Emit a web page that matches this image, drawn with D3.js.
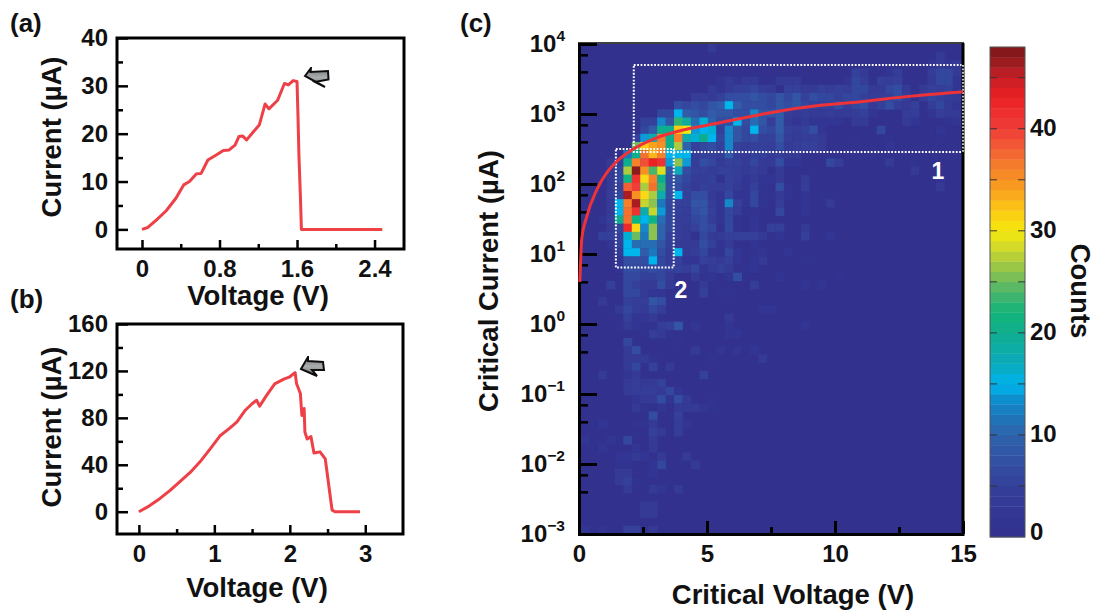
<!DOCTYPE html>
<html>
<head>
<meta charset="utf-8">
<script src="https://cdn.jsdelivr.net/npm/d3@7"></script>
<style>
  html, body { margin: 0; padding: 0; background: #fff; }
  svg { display: block; }
  text { font-family: "Liberation Sans", Arial, sans-serif; font-weight: bold; fill: #111; }
</style>
</head>
<body>
<svg width="1097" height="610"></svg>
<script>
// panel (a)
const aVoltage = [0,.06,.15,.25,.35,.43,.49,.56,.61,.68,.77,.84,.9,.96,1,1.04,1.08,1.15,1.21,1.27,1.31,1.4,1.47,1.51,1.56,1.6,1.61,1.62,1.635,1.645,2.48];
const aCurrent = [0,.4,2,3.9,6.5,9.3,10,11.6,11.7,14.5,15.6,16.5,16.6,17.6,19.4,19.5,18.7,20.4,21.8,26.2,25.2,27,30.5,30.2,31.1,30.9,23.6,15.2,6.8,0,0];
const aXTicks = [0,0.8,1.6,2.4], aXMinor = [0.4,1.2,2.0];
const aYTicks = [0,10,20,30,40], aYMinor = [5,15,25,35];

// panel (b)
const bVoltage = [0,.14,.28,.41,.54,.68,.81,.95,1.08,1.2,1.3,1.41,1.5,1.56,1.6,1.69,1.8,1.92,2,2.07,2.09,2.14,2.16,2.19,2.2,2.23,2.28,2.32,2.4,2.47,2.51,2.56,2.6,2.93];
const bCurrent = [0,5,11.3,18,25.5,33.5,42.5,54,65,71,76.6,86.5,92,95,90,99,109,113,115,118.6,109,100.7,82,88,68,62,64,50,51,45,25.5,1.4,0,0];
const bXTicks = [0,1,2,3], bXMinor = [0.5,1.5,2.5];
const bYTicks = [0,40,80,120,160], bYMinor = [20,60,100,140];

// panel (c) red curve
const fitVoltage = [.03,.04,.105,.3,.69,1.08,1.41,2.06,3.03,4.07,5,7,8.9,11,13,15];
const fitCurrent = [4,4.85,16,34,82,144,200,306,457,590,690,970,1260,1500,1800,2080];
const cXTicks = [0,5,10,15], cXMinor = [2.5,7.5,12.5];
const cExponents = [4,3,2,1,0,-1,-2,-3];
const colorbarTicks = [0,10,20,30,40], colorbarMinor = [5,15,25,35,45];

// 2D histogram: one list per current bin (top row = 10^4), one entry per voltage bin
const counts = [
  [0,0,0,0,0,0,0,0,0,0,0,0,0,0,0,3],
  [0,0,0,0,0,0,0,0,0,0,0,0,0,0,0,0,0,0,0,0,0,0,0,0,0,0,0,0,0,0,0,0,0,0,0,0,0,0,0,0,0,0,3],
  [0,0,0,0,0,0,0,0,0,0,0,0,0,0,0,0,0,0,0,0,0,0,0,0,0,0,0,0,0,0,0,0,0,0,0,0,0,0,0,0,0,2,3,2,3],
  [0,0,0,0,0,0,0,0,0,0,0,0,0,0,0,0,0,0,0,0,0,0,0,0,0,0,0,0,0,0,0,0,5,3,0,0,2,4,0,0,0,4,6,6,3,6],
  [0,0,0,0,0,0,0,0,0,0,0,0,0,0,0,0,2,3,2,3,3,0,0,3,3,3,0,0,0,0,0,2,6,4,0,5,4,5,0,0,0,3,6,6,2,5],
  [0,0,0,0,0,0,0,0,0,0,0,0,0,0,0,3,2,3,5,5,6,4,3,0,5,5,3,3,5,4,5,4,6,6,3,3,6,7,3,0,3,5,4,5,2,3],
  [0,0,0,0,0,0,0,0,0,0,0,0,0,4,4,3,5,7,7,7,8,7,6,8,6,8,5,7,6,6,5,6,6,5,4,4,5,7,4,0,4,6,5,4,3,3],
  [0,0,0,0,0,0,0,0,0,0,0,7,6,7,6,8,9,15,9,7,7,7,6,8,7,8,6,5,5,5,7,4,6,7,3,5,7,4,3,5,0,4,6,3,2],
  [0,0,0,0,0,0,0,0,0,6,6,15,9,8,7,9,8,8,7,7,13,8,8,9,4,3,4,3,3,4,3,3,4,5,2,0,0,0,4,4,0,2,4,3,3,3],
  [0,0,0,0,0,0,0,5,5,13,8,23,19,11,16,10,7,7,15,7,11,8,4,9,3,2,3,2,2,2,2,0,3,3,0,0,0,0,3,2,0,0,0,1,2],
  [0,0,0,0,0,0,0,6,9,20,20,32,30,14,15,16,5,13,8,6,15,7,6,9,5,4,5,7,2,0,0,0,0,0,0,6,0,0,0,0,0,0,2],
  [0,0,0,0,0,0,5,14,18,36,20,36,18,16,20,15,6,13,8,6,7,5,5,8,4,3,4,4,3,0,0,0,1,0,0,0,1,0,0,0,0,0,1],
  [0,0,0,0,0,0,25,32,34,35,20,27,10,5,6,7,5,13,5,4,5,5,4,7,3,4,5,5,3,0,0,0,0,0,0,0,2],
  [0,0,0,0,0,12,20,37,33,36,15,15,15,4,5,5,4,9,4,3,5,5,3,4,3,3],
  [0,0,0,3,5,20,36,39,43,41,14,26,14,4,7,6,3,5,5,3,6,3,3,7,2,2,0,0,0,6,4,0,0,0,0,0,3,0,0,1],
  [0,0,0,3,6,27,47,35,24,29,8,17,7,5,5,4,5,5,4,3,4,3,0,3,0,0,0,0,0,0,0,0,0,0,0,0,0,0,0,3],
  [0,0,0,3,6,21,41,31,36,20,7,8,6,4,4,5,1,5,4,2,3,2,2,3,0,0,3,0,0,0,0,0,0,0,0,0,0,0,0,0,0,0,2],
  [0,0,0,3,5,38,40,27,37,23,7,7,5,3,5,4,4,5,3,2,5,2,0,7,1,0,4,0,0,0,0,0,0,0,0,0,0,0,0,0,0,0,3],
  [0,0,0,4,6,46,35,31,27,18,7,15,5,7,7,3,2,6,2,2,6,1,1,3,2,0,2,0,1],
  [0,0,0,3,15,36,46,28,26,12,6,5,5,8,8,4,2,13,5,2,6,2,0,4,0,0,2,0,0,3],
  [0,0,0,3,15,37,41,18,28,14,6,5,4,7,8,5,2,6,4,1,1,0,0,6,0,0,2],
  [0,0,2,4,20,37,21,15,21,11,6,4,4,6,7,4,2,6,1,0,2],
  [0,0,0,3,6,42,31,13,26,10,6,4,3,5,7,6,1,6,1,0,2,0,5,5,0,0,3],
  [0,0,5,5,5,16,25,12,26,10,5,4,3,1,6,3,3,5,5,5,5,3,0,2,0,0,5,0,0,2],
  [0,0,0,2,5,15,11,11,11,8,5,3,3,3,7,5,2,3,0,0,2],
  [0,0,0,0,3,15,15,9,12,7,4,15,3,4,6,2,1,6,2,0,1,2,0,0,2],
  [0,0,0,0,2,7,7,7,15,6,4,5,2,2,5,4,3,5,2,0,2,3,0,0,0,0,1],
  [0,0,0,0,2,7,7,6,7,6,5,5,4,6,2,3,5,3,0,1,2],
  [0,0,0,0,0,6,6,5,5,6,3,0,0,3,1,2,0,2,7,0,0,0,0,2,0,0,0,0,0,0,1],
  [0,0,0,5,0,6,5,3,3,7,3,0,0,0,3,0,0,0,0,0,4,0,0,0,0,0,2,0,2],
  [0,0,0,0,0,6,6,3,2,2,0,0,0,0,5,0,1,1],
  [0,0,3,0,0,5,4,4,8,7],
  [0,0,0,0,3,6,4,3,6,4,0,0,0,0,0,0,0,0,0,0,0,2,2],
  [0,0,0,0,0,5,2,2,3,0,0,0,0,0,0,0,0,3],
  [0,0,0,0,1,3,2,1,1,4,5,8,0,2,0,0,0,2,0,0,0,0,0,0,0,0,2],
  [0,0,0,0,0,0,0,0,4,3,1,0,0,0,0,0,0,2,2],
  [0,0,0,0,0,6,0,0,0,0,0,1],
  [0,0,0,0,0,3,7,0,0,0,0,0,0,3,0,0,2,0,2,0,2],
  [0,0,0,0,0,3,3,3,1,0,0,0,0,0,0,1,0,0,0,0,0,3],
  [0,0,0,0,0,3,6,0,5,0,3],
  [0,0,3,0,0,2,3,0,0,0,0,0,0,0,5],
  [0,0,0,0,0,3,4,3,3,5],
  [0,0,0,0,0,3,4,4,4,3,6,2],
  [0,0,0,0,0,0,2,3,3,7,2,7,3,0,0,1],
  [0,0,0,0,0,0,3,1,0,2,0,3,3,3,2,1],
  [0,0,0,0,0,0,0,0,7,0,0,5],
  [0,0,2,0,0,0,1,1,3,0,0,4,2],
  [0,0,0,0,0,0,0,0,5,3,0,4],
  [2,0,0,2,0,6,0,0,3],
  [0,0,2,0,0,0,2,0,3],
  [0,0,0,0,2,2,3,2,0,3,0,0,3],
  [0,0,0,0,1,1,0,0,2,6,0,0,0,3],
  [0,0,0,0,3,3,0,0,2],
  [0,0,0,0,3,5,1],
  [0,0,0,0,0,3,0,0,3,2,0,3],
  [],
  [0,0,0,0,0,0,0,3,3],
  [0,0,0,0,0,0,0,3,3],
  [],
  [2,0,2,0,0,5,5,1,3]
];

const colorStops = [0,5,10,12,13.5,15,17,20,22,24,26,28,30,32,34,36,38,40,43,45,47,48];
const colorValues = ["#33308e","#34409a","#2f62ab","#1c78bc","#0d8fce","#00b4ec","#0aa9bb","#10ae8f","#12b57a","#4bb56c","#8cc24f","#c7d52f","#f5e80e","#fcc915","#f9a11f","#f58229","#f26033","#ee3d3a","#ec2024","#c71f25","#8c1a1c","#7c1518"];

const color = d3.scaleLinear().domain(colorStops).range(colorValues);
const svg = d3.select("svg");

const defs = svg.append("defs");
defs.append("filter").attr("id", "soft").attr("x", "-5%").attr("y", "-5%").attr("width", "110%").attr("height", "110%")
    .append("feGaussianBlur").attr("stdDeviation", 0.7);
defs.append("filter").attr("id", "softer").attr("x", "-5%").attr("y", "-5%").attr("width", "110%").attr("height", "110%")
    .append("feGaussianBlur").attr("stdDeviation", 0.35);
const grey = defs.append("linearGradient").attr("id", "arrowGrey").attr("x1", 0).attr("y1", 0).attr("x2", 0).attr("y2", 1);
grey.append("stop").attr("offset", "0%").attr("stop-color", "#75797b");
grey.append("stop").attr("offset", "50%").attr("stop-color", "#a9adae");
grey.append("stop").attr("offset", "100%").attr("stop-color", "#6c7072");
defs.append("clipPath").attr("id", "heatClip").append("rect")
    .attr("x", 579).attr("y", 44).attr("width", 384).attr("height", 490);

function styleAxis(g, width) {
    g.select(".domain").remove();
    g.selectAll("line").attr("stroke", "#000").attr("stroke-width", width);
}

function drawPanel(p) {
    const x = d3.scaleLinear().domain(p.xDomain).range(p.xRange);
    const y = d3.scaleLinear().domain(p.yDomain).range(p.yRange);
    const g = svg.append("g");

    g.append("g").attr("transform", `translate(0,${p.yRange[0]})`)
        .call(d3.axisBottom(x).tickValues(p.xMinor).tickSize(-5).tickFormat(""))
        .call(styleAxis, 2.5);
    g.append("g").attr("transform", `translate(${p.xRange[0]},0)`)
        .call(d3.axisLeft(y).tickValues(p.yMinor).tickSize(-6).tickFormat(""))
        .call(styleAxis, 2.5);

    const xAxis = g.append("g").attr("transform", `translate(0,${p.yRange[0]})`)
        .call(d3.axisBottom(x).tickValues(p.xTicks).tickSize(-9).tickPadding(p.xPad).tickFormat(d3.format("")))
        .call(styleAxis, 2.5);
    const yAxis = g.append("g").attr("transform", `translate(${p.xRange[0]},0)`)
        .call(d3.axisLeft(y).tickValues(p.yTicks).tickSize(-11).tickPadding(9).tickFormat(d3.format("")))
        .call(styleAxis, 2.5);
    xAxis.selectAll("text").attr("font-size", 24).attr("fill", "#111");
    yAxis.selectAll("text").attr("font-size", 24).attr("fill", "#111");

    g.append("rect")
        .attr("x", p.xRange[0]).attr("y", p.yRange[1])
        .attr("width", p.xRange[1] - p.xRange[0]).attr("height", p.yRange[0] - p.yRange[1])
        .attr("fill", "none").attr("stroke", "#000").attr("stroke-width", 3);

    const line = d3.line().x(d => x(d[0])).y(d => y(d[1]));
    g.append("path")
        .datum(d3.zip(p.voltage, p.current))
        .attr("d", line)
        .attr("fill", "none").attr("stroke", "#ee3f47").attr("stroke-width", 3)
        .attr("stroke-linejoin", "round")
        .attr("filter", "url(#softer)");

    g.append("path")
        .attr("d", p.arrow)
        .attr("fill", "url(#arrowGrey)").attr("stroke", "#111").attr("stroke-width", 2)
        .attr("stroke-linejoin", "miter")
        .attr("filter", "url(#softer)");

    g.append("text").attr("x", p.xLabel[0]).attr("y", p.xLabel[1])
        .attr("text-anchor", "middle").attr("font-size", 27.5).text("Voltage (V)");
    g.append("text").attr("transform", `translate(${p.yLabel[0]},${p.yLabel[1]}) rotate(-90)`)
        .attr("text-anchor", "middle").attr("font-size", 27.5).text("Current (µA)");
    g.append("text").attr("x", 10).attr("y", p.tagY).attr("font-size", 26).text(p.tag);
}

drawPanel({
    voltage: aVoltage, current: aCurrent, xTicks: aXTicks, xMinor: aXMinor, yTicks: aYTicks, yMinor: aYMinor,
    xDomain: [-0.258, 2.704], yDomain: [-4.1, 40], xRange: [117, 404], yRange: [249, 38], xPad: 11,
    xLabel: [258, 305], yLabel: [61, 137], tag: "(a)", tagY: 32,
    arrow: "M305,76L311,68L310.5,72L328,71L328.5,79.5L315,82L325,87Z"
});
drawPanel({
    voltage: bVoltage, current: bCurrent, xTicks: bXTicks, xMinor: bXMinor, yTicks: bYTicks, yMinor: bYMinor,
    xDomain: [-0.29, 3.5], yDomain: [-19, 160], xRange: [117, 403], yRange: [534, 324], xPad: 11,
    xLabel: [257, 597], yLabel: [61, 427], tag: "(b)", tagY: 308,
    arrow: "M301,369L308,357L308,361L323,362L324,370L312,370L317,376Z"
});

// panel (c)
const xC = d3.scaleLinear().domain([0, 15]).range([579, 963]);
const yC = d3.scaleLog().domain([1e-3, 1e4]).range([534, 44]);
const binStart = 0.082, binWidth = 0.33, binDecades = 7 / 60;

const cells = counts.flatMap((row, r) => row.map((n, c) => ({r, c, n})).filter(d => d.n > 0));
const heat = svg.append("g").attr("clip-path", "url(#heatClip)");
const heatInner = heat.append("g").attr("filter", "url(#soft)");
heatInner.append("rect").attr("x", 575).attr("y", 40).attr("width", 392).attr("height", 498).attr("fill", color(0));
heatInner.selectAll("rect.cell")
    .data(cells)
    .enter().append("rect")
    .attr("class", "cell")
    .attr("x", d => xC(binStart + d.c * binWidth))
    .attr("y", d => yC(Math.pow(10, 4 - d.r * binDecades)))
    .attr("width", d => xC(binStart + (d.c + 1) * binWidth) - xC(binStart + d.c * binWidth) + 0.4)
    .attr("height", d => yC(Math.pow(10, 4 - (d.r + 1) * binDecades)) - yC(Math.pow(10, 4 - d.r * binDecades)) + 0.4)
    .attr("fill", d => color(d.n));

// dotted regions 1 and 2
const regions = [
    {v0: 2.14, v1: 15, i0: 286, i1: 5000},
    {v0: 1.44, v1: 3.7, i0: 6.4, i1: 316}
];
svg.selectAll("rect.region")
    .data(regions)
    .enter().append("rect")
    .attr("class", "region")
    .attr("x", d => xC(d.v0)).attr("y", d => yC(d.i1))
    .attr("width", d => xC(d.v1) - xC(d.v0)).attr("height", d => yC(d.i0) - yC(d.i1))
    .attr("fill", "none").attr("stroke", "#fff").attr("stroke-width", 2).attr("stroke-dasharray", "1.8 1.6");

// frame: thin on top, heavy on the other three sides
const frame = svg.append("g").attr("fill", "none").attr("stroke", "#000");
frame.append("line").attr("x1", 578).attr("x2", 964).attr("y1", 43).attr("y2", 43).attr("stroke-width", 1.5);
frame.append("line").attr("x1", 579.5).attr("x2", 579.5).attr("y1", 43).attr("y2", 536).attr("stroke-width", 3);
frame.append("line").attr("x1", 578).attr("x2", 964).attr("y1", 534.5).attr("y2", 534.5).attr("stroke-width", 3);
frame.append("line").attr("x1", 963).attr("x2", 963).attr("y1", 43).attr("y2", 536).attr("stroke-width", 3);

// white dots back over the right frame edge
svg.append("line").attr("x1", xC(15)).attr("x2", xC(15)).attr("y1", yC(5000)).attr("y2", yC(286))
    .attr("stroke", "#fff").attr("stroke-width", 1.5).attr("stroke-dasharray", "1.8 1.6");

const cXAxis = svg.append("g").attr("transform", "translate(0,534)")
    .call(d3.axisBottom(xC).tickValues(cXTicks).tickSize(-13).tickPadding(11).tickFormat(d3.format("d")))
    .call(styleAxis, 3);
cXAxis.selectAll("text").attr("font-size", 24).attr("fill", "#111");
svg.append("g").attr("transform", "translate(0,534)")
    .call(d3.axisBottom(xC).tickValues(cXMinor).tickSize(-7).tickFormat(""))
    .call(styleAxis, 3);

const yMajor = cExponents.map(e => Math.pow(10, e));
const yMinorVals = cExponents.slice(0, -1).flatMap(e => [0.7, 0.4].map(f => f * Math.pow(10, e)));
svg.append("g").attr("transform", "translate(579,0)")
    .call(d3.axisLeft(yC).tickValues(yMinorVals).tickSize(-9).tickFormat(""))
    .call(styleAxis, 2.5);
const cYAxis = svg.append("g").attr("transform", "translate(579,0)")
    .call(d3.axisLeft(yC).tickValues(yMajor).tickSize(-18).tickPadding(14).tickFormat(""))
    .call(styleAxis, 3);
cYAxis.selectAll(".tick text").each(function(d) {
    const t = d3.select(this).attr("font-size", 24).attr("fill", "#111");
    const e = Math.round(Math.log10(d));
    t.append("tspan").text("10");
    t.append("tspan").attr("font-size", 15.5).attr("dy", "-0.72em").text(e < 0 ? "\u2212" + (-e) : e);
});

// fit curve, on top of the left axis as in the source figure
svg.append("path")
    .datum(d3.zip(fitVoltage, fitCurrent))
    .attr("d", d3.line().x(d => xC(d[0])).y(d => yC(d[1])).curve(d3.curveMonotoneX))
    .attr("fill", "none").attr("stroke", "#ee3338").attr("stroke-width", 3)
    .attr("filter", "url(#softer)");

svg.append("text").attr("x", 793).attr("y", 604).attr("text-anchor", "middle").attr("font-size", 27.5).text("Critical Voltage (V)");
svg.append("text").attr("transform", "translate(498,281) rotate(-90)").attr("text-anchor", "middle").attr("font-size", 27.5).text("Critical Current (µA)");
svg.append("text").attr("x", 460).attr("y", 32).attr("font-size", 26).text("(c)");
svg.append("text").attr("x", 938).attr("y", 179).attr("text-anchor", "middle").attr("font-size", 23).style("fill", "#fff").text("1");
svg.append("text").attr("x", 681).attr("y", 298).attr("text-anchor", "middle").attr("font-size", 23).style("fill", "#fff").text("2");

// colorbar
const barX = 990, barW = 35;
const yBar = d3.scaleLinear().domain([0, 48]).range([537, 47]);
svg.append("g").selectAll("rect")
    .data(d3.range(0, 48))
    .enter().append("rect")
    .attr("x", barX).attr("width", barW)
    .attr("y", d => yBar(d + 1)).attr("height", d => yBar(d) - yBar(d + 1) + 0.4)
    .attr("fill", d => color(d + 0.5));
svg.append("rect").attr("x", barX).attr("y", yBar(48)).attr("width", barW).attr("height", yBar(0) - yBar(48))
    .attr("fill", "none").attr("stroke", "#555").attr("stroke-width", 1);

const barTicks = colorbarTicks.concat(colorbarMinor).filter(d => d > 0);
const barTickG = svg.append("g").attr("stroke", "#333").attr("stroke-opacity", 0.75).attr("stroke-width", 1.3);
barTickG.selectAll("line.l").data(barTicks).enter().append("line").attr("class", "l")
    .attr("x1", barX).attr("x2", barX + 7).attr("y1", d => yBar(d)).attr("y2", d => yBar(d));
barTickG.selectAll("line.r").data(barTicks).enter().append("line").attr("class", "r")
    .attr("x1", barX + barW - 7).attr("x2", barX + barW).attr("y1", d => yBar(d)).attr("y2", d => yBar(d));

svg.append("g").selectAll("text")
    .data(colorbarTicks)
    .enter().append("text")
    .attr("x", 1030)
    .attr("y", d => d === 0 ? 532 : yBar(d) - 1)
    .attr("dy", "0.35em")
    .attr("font-size", 24)
    .text(d => d);
svg.append("text").attr("transform", "translate(1071,291) rotate(90)").attr("text-anchor", "middle").attr("font-size", 27.5).text("Counts");
</script>
</body>
</html>
